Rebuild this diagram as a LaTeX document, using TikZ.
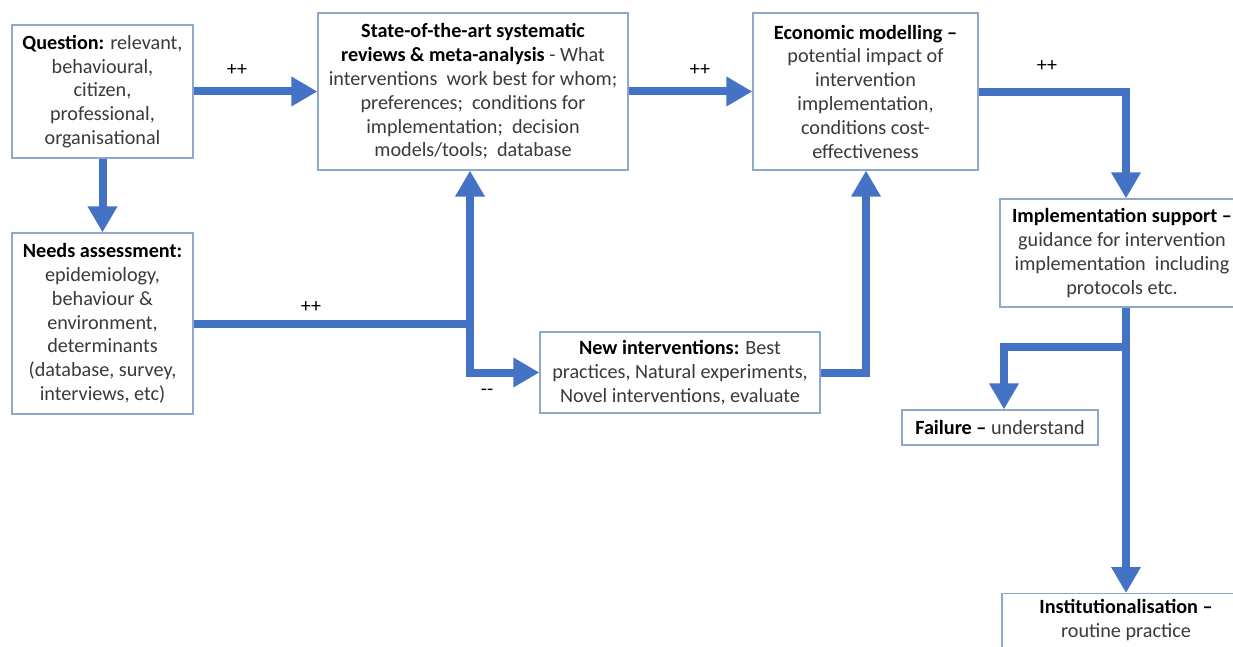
\documentclass[tikz,border=0pt]{standalone}
\usepackage{fontspec}
\setmainfont{Carlito}
\usetikzlibrary{arrows.meta}
\definecolor{flow}{HTML}{4472C4}
\definecolor{boxline}{HTML}{8EA9C8}
\definecolor{txt}{HTML}{3A3A3A}
\tikzset{
  box/.style={draw=boxline, line width=1.2pt, fill=white, align=center, inner sep=1pt,
    text=txt, font=\fontsize{20.2}{23.8}\selectfont},
  flowline/.style={draw=flow, line width=8pt, line join=miter},
  arr/.style={flowline, -{Triangle[width=28pt,length=26pt]}},
  sign/.style={text=black, font=\fontsize{20}{22}\selectfont}
}
\newcommand{\hd}[1]{\textbf{\color{black}#1}}
\begin{document}
\begin{tikzpicture}[x=1pt,y=-1pt]
\useasboundingbox (0,0) rectangle (1233,647);
\clip (0,0) rectangle (1233,647);
\fill[white] (0,0) rectangle (1233,647);

\node[box, minimum width=181pt, minimum height=133pt] (q) at (102.5,91.5)
  {\hd{Question:} relevant,\\ behavioural,\\ citizen,\\ professional,\\ organisational};
\node[box, minimum width=310pt, minimum height=157pt] (sota) at (473,91.5)
  {\hd{State-of-the-art systematic}\\ \hd{reviews \& meta-analysis} - What\\ interventions\ \ work best for whom;\\ preferences;\ \ conditions for\\ implementation;\ \ decision\\ models/tools;\ \ database};
\node[box, minimum width=225pt, minimum height=157pt] (econ) at (865.5,91.5)
  {\hd{Economic modelling –}\\ potential impact of\\ intervention\\ implementation,\\ conditions cost-\\ effectiveness};
\node[box, minimum width=244pt, minimum height=108pt] (impl) at (1122,253)
  {\hd{Implementation support –}\\ guidance for intervention\\ implementation\ \ including\\ protocols etc.};
\node[box, minimum width=181pt, minimum height=181pt] (needs) at (102.5,323.5)
  {\hd{Needs assessment:}\\ epidemiology,\\ behaviour \&\\ environment,\\ determinants\\ (database, survey,\\ interviews, etc)};
\node[box, minimum width=280pt, minimum height=81pt] (new) at (680,372.5)
  {\hd{New interventions:} Best\\ practices, Natural experiments,\\ Novel interventions, evaluate};
\node[box, minimum width=196pt, minimum height=35pt] (fail) at (1000,427.5)
  {\hd{Failure –} understand};
\node[box, minimum width=248pt, minimum height=80pt, anchor=north, text depth=30pt, inner sep=3pt] (inst) at (1126,593)
  {\hd{Institutionalisation –}\\ routine practice};

\coordinate (j) at (470,324);
\coordinate (br) at (1126,347);
\coordinate (ec) at (1126,92);

\draw[arr] (q) -- (sota);
\draw[arr] (sota) -- (econ);
\draw[flowline] (econ.east |- ec) -- (ec);
\draw[arr] ([yshift=4pt]ec) -- (impl.north -| ec);
\draw[arr] (impl.south -| ec) -- (inst.north);
\draw[arr] ([xshift=4pt]br) -| (fail.north -| 1004,0);
\draw[arr] (q) -- (needs);
\draw[flowline] (needs.east |- j) -- ([xshift=4pt]j);
\draw[arr] (j) -- (j |- sota.south);
\draw[arr] (j) |- (new.west);
\draw[arr] (new.east) -| (econ.south -| 866,0);

\node[sign] (s1) at (237,70) {++};
\node[sign] (s2) at (700,70) {++};
\node[sign] (s3) at (1047,66) {++};
\node[sign] (s4) at (311,307) {++};
\node[sign] (s5) at (487,392) {-{}-};
\end{tikzpicture}
\end{document}
